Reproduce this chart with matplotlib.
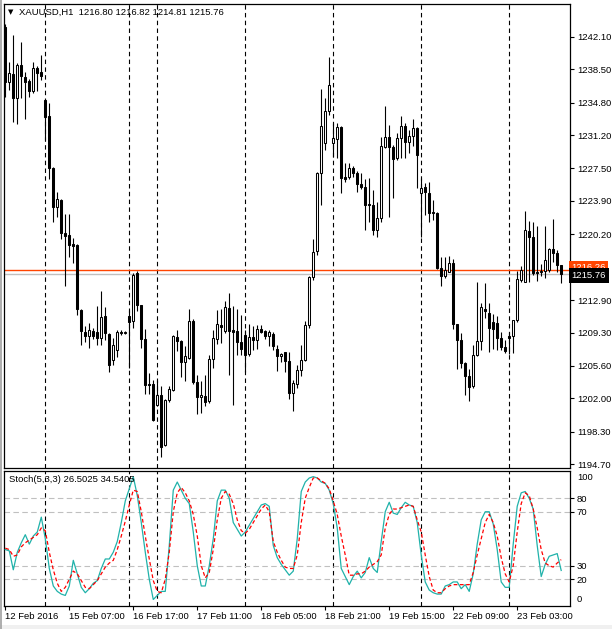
import matplotlib
matplotlib.use('Agg')
import matplotlib.pyplot as plt
import matplotlib.transforms as mtransforms
import numpy as np

plt.rcParams['font.family'] = ['Liberation Sans', 'DejaVu Sans']

# XAUUSD H1 candles (open, high, low, close)
opens = [1243.17, 1237.11, 1237.97, 1235.27, 1238.96, 1237.67, 1237.19, 1236.12, 1238.60, 1238.22,
         1235.09, 1233.31, 1227.59, 1223.20, 1224.01, 1220.32, 1220.14, 1219.14, 1219.03, 1211.83,
         1209.36, 1208.87, 1209.51, 1209.36, 1208.70, 1211.17, 1209.14, 1206.29, 1207.40, 1209.39,
         1209.28, 1211.09, 1210.54, 1215.89, 1212.31, 1208.59, 1203.64, 1203.64, 1201.23, 1202.42,
         1196.88, 1201.79, 1202.89, 1208.81, 1208.40, 1206.04, 1206.48, 1210.61, 1203.82, 1202.16,
         1202.31, 1201.68, 1206.40, 1208.59, 1210.17, 1209.51, 1212.05, 1209.54, 1209.51, 1208.21,
         1209.06, 1206.92, 1208.81, 1208.43, 1209.73, 1209.43, 1208.87, 1209.17, 1207.51, 1206.66,
         1207.10, 1206.11, 1202.61, 1203.64, 1205.11, 1206.22, 1210.09, 1215.41, 1218.29, 1226.97,
         1230.29, 1233.90, 1230.29, 1230.73, 1232.06, 1226.53, 1226.53, 1227.52, 1227.04, 1225.75,
         1225.48, 1223.57, 1223.46, 1220.69, 1221.99, 1229.85, 1230.96, 1229.85, 1228.63, 1230.84,
         1232.24, 1230.47, 1231.07, 1231.95, 1224.82, 1225.42, 1224.75, 1222.72, 1222.61, 1216.45,
         1215.52, 1216.07, 1217.00, 1210.25, 1208.51, 1205.93, 1204.52, 1203.34, 1206.85, 1208.40,
         1211.91, 1211.50, 1210.47, 1210.36, 1208.70, 1207.66, 1208.95, 1208.87, 1210.72, 1215.15,
         1214.96, 1220.61, 1219.88, 1216.07, 1216.07, 1216.18, 1216.26, 1218.55, 1218.11, 1216.80]
highs = [1243.50, 1239.33, 1242.28, 1239.15, 1241.48, 1238.15, 1237.38, 1239.26, 1238.85, 1240.07,
         1235.20, 1234.79, 1227.70, 1224.93, 1224.10, 1222.46, 1222.43, 1219.80, 1219.10, 1211.90,
         1209.98, 1210.36, 1209.80, 1212.20, 1213.86, 1212.13, 1209.20, 1208.73, 1209.62, 1209.62,
         1209.51, 1211.83, 1215.89, 1216.15, 1212.40, 1209.69, 1204.82, 1204.00, 1204.08, 1203.41,
         1201.97, 1203.41, 1208.98, 1209.62, 1208.51, 1207.77, 1211.94, 1210.83, 1204.63, 1203.89,
         1204.63, 1206.85, 1209.62, 1211.75, 1211.94, 1212.75, 1213.68, 1212.20, 1211.91, 1211.28,
         1209.62, 1210.28, 1209.98, 1210.17, 1210.17, 1209.62, 1209.62, 1209.32, 1207.95, 1207.07,
         1207.15, 1207.10, 1204.08, 1205.74, 1207.95, 1210.54, 1215.52, 1219.66, 1227.15, 1236.27,
         1235.31, 1239.88, 1232.57, 1232.51, 1232.21, 1228.14, 1228.08, 1227.78, 1227.23, 1226.97,
         1226.30, 1226.42, 1225.12, 1223.76, 1231.02, 1234.45, 1232.32, 1230.10, 1231.46, 1233.28,
         1232.51, 1231.76, 1232.95, 1232.06, 1226.42, 1225.93, 1226.04, 1224.01, 1222.70, 1217.73,
         1217.73, 1217.81, 1217.45, 1210.30, 1209.28, 1206.04, 1205.26, 1207.95, 1214.90, 1212.61,
         1214.82, 1212.61, 1211.39, 1211.09, 1209.32, 1208.51, 1209.32, 1210.75, 1216.18, 1216.70,
         1222.79, 1221.72, 1221.61, 1221.06, 1216.92, 1221.06, 1218.70, 1221.91, 1218.48, 1216.82]
lows = [1235.42, 1236.19, 1232.68, 1232.39, 1235.27, 1232.95, 1235.39, 1235.83, 1236.12, 1237.30,
        1230.66, 1226.30, 1221.61, 1222.16, 1219.66, 1214.41, 1217.73, 1217.00, 1211.28, 1207.95,
        1208.21, 1207.59, 1208.59, 1207.95, 1207.95, 1208.51, 1204.96, 1205.74, 1206.63, 1209.06,
        1209.17, 1205.37, 1209.80, 1211.64, 1207.59, 1202.53, 1202.53, 1199.46, 1201.12, 1195.52,
        1196.77, 1201.64, 1202.78, 1207.21, 1204.38, 1203.89, 1206.40, 1203.64, 1200.28, 1200.39,
        1201.12, 1201.53, 1205.37, 1208.07, 1208.14, 1209.28, 1204.63, 1201.31, 1206.85, 1206.85,
        1204.89, 1206.74, 1207.40, 1207.48, 1209.28, 1208.59, 1207.77, 1207.40, 1205.00, 1206.07,
        1204.96, 1201.94, 1200.57, 1203.19, 1204.44, 1206.11, 1209.80, 1215.15, 1217.92, 1223.46,
        1229.55, 1233.42, 1228.81, 1228.63, 1224.75, 1226.04, 1226.30, 1226.56, 1224.93, 1225.23,
        1220.69, 1221.61, 1220.14, 1219.88, 1221.61, 1229.74, 1222.16, 1224.20, 1228.44, 1228.63,
        1228.63, 1229.25, 1229.99, 1225.31, 1219.95, 1222.35, 1221.61, 1221.80, 1216.30, 1214.41,
        1215.37, 1216.04, 1209.69, 1205.26, 1205.41, 1202.42, 1201.68, 1203.19, 1206.66, 1207.40,
        1210.94, 1207.18, 1207.51, 1207.40, 1207.40, 1207.04, 1206.96, 1207.04, 1210.50, 1214.93,
        1214.93, 1214.93, 1215.71, 1214.97, 1215.60, 1215.34, 1216.04, 1217.15, 1216.04, 1214.81]
closes = [1237.08, 1238.11, 1235.34, 1238.96, 1237.74, 1237.11, 1236.12, 1238.60, 1238.11, 1237.78,
          1233.24, 1227.52, 1223.20, 1224.09, 1220.32, 1220.03, 1219.03, 1218.92, 1211.91, 1209.43,
          1208.87, 1209.62, 1208.87, 1208.70, 1211.02, 1209.25, 1205.74, 1207.95, 1209.36, 1209.28,
          1209.34, 1210.42, 1215.71, 1212.31, 1208.59, 1203.45, 1203.45, 1199.65, 1202.42, 1196.63,
          1201.86, 1203.05, 1208.87, 1208.32, 1206.04, 1206.66, 1210.61, 1203.80, 1202.16, 1202.42,
          1201.61, 1206.40, 1208.70, 1210.28, 1209.87, 1212.13, 1209.43, 1209.36, 1208.25, 1207.51,
          1206.85, 1208.81, 1208.43, 1209.73, 1209.36, 1208.87, 1209.32, 1207.77, 1206.66, 1206.96,
          1206.18, 1202.61, 1203.71, 1205.11, 1206.22, 1210.09, 1215.41, 1218.22, 1226.97, 1232.21,
          1233.87, 1236.75, 1230.84, 1232.06, 1226.42, 1226.30, 1227.52, 1227.04, 1225.75, 1225.48,
          1223.46, 1223.46, 1220.69, 1221.99, 1229.99, 1230.96, 1229.85, 1228.52, 1230.84, 1232.17,
          1230.43, 1231.07, 1231.99, 1228.94, 1225.31, 1224.93, 1222.61, 1222.54, 1216.45, 1215.52,
          1216.26, 1217.00, 1210.25, 1208.51, 1205.93, 1204.44, 1203.27, 1206.85, 1208.40, 1212.09,
          1211.72, 1209.80, 1209.73, 1208.70, 1207.66, 1207.21, 1208.70, 1210.72, 1215.23, 1216.26,
          1220.69, 1219.88, 1215.89, 1215.89, 1216.18, 1217.37, 1218.55, 1218.11, 1216.81, 1215.76]

# Stochastic(5,3,3): main and signal lines
stoch_main = [42, 41, 27, 40, 47, 53, 46, 52, 55, 66,
              50, 28, 15, 11, 9, 8, 15, 34, 24, 14,
              10, 13, 17, 19, 28, 35, 35, 40, 48, 62,
              78, 87, 96, 82, 62, 40, 20, 5, 8, 11,
              11, 45, 86, 92, 86, 80, 76, 55, 30, 15,
              15, 30, 50, 78, 86, 86, 80, 62, 57, 52,
              55, 60, 65, 70, 75, 76, 74, 45, 36, 31,
              27, 23, 26, 50, 85, 92, 95, 96, 95, 92,
              91, 86, 76, 58, 28, 22, 16, 22, 26, 21,
              25, 36, 28, 25, 48, 70, 77, 69, 68, 73,
              77, 75, 74, 62, 38, 18, 12, 10, 9, 9,
              15, 16, 18, 18, 13, 16, 11, 24, 46, 64,
              70, 70, 61, 42, 18, 14, 14, 46, 74, 84,
              85, 80, 72, 45, 22, 31, 37, 38, 39, 26.5025]
stoch_signal = [43, 42, 37, 38, 44, 47, 49, 51, 53, 58,
                56, 40, 27, 17, 11, 14, 20, 26, 24, 19,
                14, 13, 16, 19, 24, 29, 32, 34, 42, 52,
                63, 75, 86, 85, 70, 52, 35, 19, 11, 10,
                20, 40, 70, 84, 88, 84, 78, 68, 52, 30,
                21, 25, 42, 64, 80, 85, 83, 76, 64, 56,
                54, 57, 62, 67, 72, 75, 70, 48, 40, 34,
                29, 28, 28, 38, 62, 80, 88, 95, 95, 93,
                91, 87, 78, 68, 52, 38, 23, 23, 24, 24,
                26, 29, 31, 33, 38, 58, 68, 72, 72, 73,
                74, 75, 74, 64, 55, 38, 22, 12, 10, 10,
                13, 15, 16, 16, 16, 16, 16, 25, 38, 50,
                62, 68, 62, 52, 36, 24, 18, 30, 55, 76,
                84, 82, 72, 58, 42, 32, 30, 29, 32, 34.5405]

separators = [10, 31, 38, 60, 82, 104, 126]
date_ticks = [0, 16, 32, 48, 64, 80, 96, 112, 128]
date_labels = ['12 Feb 2016', '15 Feb 07:00', '16 Feb 17:00', '17 Feb 11:00', '18 Feb 05:00',
               '18 Feb 21:00', '19 Feb 15:00', '22 Feb 09:00', '23 Feb 03:00']
price_ticks = [1242.10, 1238.50, 1234.80, 1231.20, 1227.50, 1223.90, 1220.20,
               1212.90, 1209.30, 1205.60, 1202.00, 1198.30, 1194.70]
stoch_levels = [20, 30, 70, 80]
bid = 1215.76
ask = 1216.26

W, H = 612, 629
fig = plt.figure(figsize=(W / 100, H / 100), dpi=100)
fig.patch.set_facecolor('white')

left, right = 4.3, 570
ax = fig.add_axes([left / W, 1 - 468 / H, (right - left) / W, (468 - 4.3) / H])
ax2 = fig.add_axes([left / W, 1 - 605.7 / H, (right - left) / W, (605.7 - 470.7) / H])

x = np.arange(len(opens))
o = np.array(opens)
c = np.array(closes)
up = c >= o

ax.vlines(x, lows, highs, color='black', linewidth=0.8, zorder=3)
ax.bar(x[up], (c - o)[up], bottom=o[up], width=0.58, facecolor='white',
       edgecolor='black', linewidth=0.75, zorder=4)
ax.bar(x[~up], (c - o)[~up], bottom=o[~up], width=0.58, facecolor='black',
       edgecolor='black', linewidth=0.75, zorder=4)

ax.axhline(bid, color='#c0c0c0', linewidth=1.0, zorder=2)
ax.axhline(ask, color='#ff4500', linewidth=1.0, zorder=2)

for a in (ax, ax2):
    for s in separators:
        a.axvline(s, color='black', linewidth=0.8, linestyle=(0, (4, 3)), zorder=1)
    a.set_xlim(-0.25, 141.2)
    for sp in a.spines.values():
        sp.set_color('black')
        sp.set_linewidth(0.9)

ax.set_ylim(1194.29, 1245.69)
ax.set_xticks([])
ax.yaxis.tick_right()
ax.set_yticks(price_ticks)
ax.set_yticklabels(['%.2f' % p for p in price_ticks])
ax.tick_params(axis='y', direction='out', length=3, width=0.8, pad=2, labelsize=6.8)

# current price labels
trans = mtransforms.blended_transform_factory(ax.transAxes, ax.transData)
ax.text(1.003, ask + 0.25, '%.2f' % ask, transform=trans, fontsize=6.8, color='white',
        va='center', ha='left', clip_on=False,
        bbox=dict(facecolor='#ff4500', edgecolor='none', boxstyle='square,pad=0.25'))
ax.text(1.003, bid - 0.1, '%.2f' % bid, transform=trans, fontsize=6.8, color='white',
        va='center', ha='left', clip_on=False, zorder=10,
        bbox=dict(facecolor='black', edgecolor='none', boxstyle='square,pad=0.3'))

# stochastic panel
ax2.plot(x, stoch_main, color='#20b2aa', linewidth=0.9, zorder=3)
ax2.plot(x, stoch_signal, color='red', linewidth=0.9, linestyle=(0, (3, 2)), zorder=3)
for lv in stoch_levels:
    ax2.axhline(lv, color='#c0c0c0', linewidth=0.8, linestyle=(0, (5, 3)), zorder=1)
ax2.set_ylim(0.4, 100.4)
ax2.yaxis.tick_right()
ax2.set_yticks(stoch_levels)
ax2.set_yticklabels([str(v) for v in stoch_levels])
ax2.tick_params(axis='y', direction='out', length=3, width=0.8, pad=2, labelsize=6.8)
trans2 = mtransforms.blended_transform_factory(ax2.transAxes, ax2.transData)
ax2.text(1.012, 95.6, '100', transform=trans2, fontsize=6.8, va='center', ha='left')
ax2.text(1.012, 5.2, '0', transform=trans2, fontsize=6.8, va='center', ha='left')

ax2.set_xticks(date_ticks)
ax2.set_xticklabels(date_labels, ha='left')
ax2.tick_params(axis='x', direction='out', length=3, width=0.8, pad=1.5, labelsize=6.8)

fig.text(19.3 / W, 1 - 12.7 / H, 'XAUUSD,H1  1216.80 1216.82 1214.81 1215.76',
         fontsize=6.8, va='center', ha='left')
fig.text(8 / W, 1 - 12.5 / H, '\u25bc', fontsize=5, va='center', ha='left',
         family='DejaVu Sans')
fig.text(9.3 / W, 1 - 480 / H, 'Stoch(5,3,3) 26.5025 34.5405',
         fontsize=6.8, va='center', ha='left')

# window chrome at the left and bottom edges
fig.add_artist(plt.Line2D([0.8 / W, 0.8 / W], [0, 1], color='#a0a0a0', linewidth=1.2))
fig.add_artist(plt.Rectangle((0, 0), 1, 4 / H, facecolor='#f0f0f0', edgecolor='none'))

fig.savefig('out.png', dpi=100, facecolor='white')
